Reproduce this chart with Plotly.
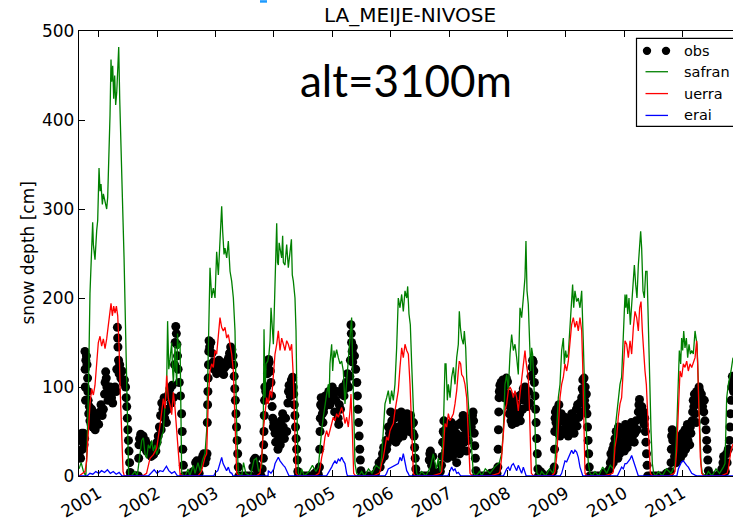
import plotly.graph_objects as go

# ---------------- data (decimal year, snow depth in cm) ----------------
obs_points = [
    (2000.665, 25), (2000.68, 40), (2000.69, 20), (2000.70, 45), (2000.71, 48), (2000.72, 30), (2000.73, 45),
    (2000.74, 48), (2000.75, 35), (2000.76, 42), (2000.765, 140), (2000.768, 120), (2000.77, 100), (2000.775, 85),
    (2000.78, 130), (2000.79, 135), (2000.80, 125), (2000.81, 110), (2000.815, 95), (2000.82, 85), (2000.83, 70),
    (2000.84, 78), (2000.85, 62), (2000.86, 72), (2000.87, 58), (2000.88, 75), (2000.89, 65), (2000.90, 55),
    (2000.92, 60), (2000.94, 52), (2000.96, 62), (2000.98, 70), (2001.00, 58), (2001.02, 72), (2001.04, 80),
    (2001.06, 68), (2001.08, 75), (2001.10, 92), (2001.11, 105), (2001.12, 117), (2001.13, 110), (2001.14, 100),
    (2001.16, 85), (2001.18, 92), (2001.20, 100), (2001.22, 88), (2001.24, 82), (2001.26, 96), (2001.28, 100),
    (2001.30, 95), (2001.31, 120), (2001.32, 167), (2001.325, 155), (2001.33, 145), (2001.34, 130), (2001.35, 115),
    (2001.36, 125), (2001.38, 110), (2001.40, 118), (2001.42, 105), (2001.44, 108), (2001.46, 100), (2001.47, 88),
    (2001.48, 78), (2001.49, 65), (2001.50, 52), (2001.51, 40), (2001.52, 28), (2001.53, 15), (2001.54, 4),
    (2001.55, 0), (2001.58, 0), (2001.61, 0), (2001.64, 0), (2001.66, 0),
    (2001.68, 0), (2001.685, 20), (2001.69, 35), (2001.70, 42), (2001.72, 47), (2001.74, 38), (2001.76, 45),
    (2001.78, 32), (2001.80, 40), (2001.82, 28), (2001.84, 35), (2001.86, 25), (2001.88, 30), (2001.90, 22),
    (2001.92, 28), (2001.94, 24), (2001.96, 32), (2001.98, 28), (2002.00, 38), (2002.02, 45), (2002.04, 55),
    (2002.06, 68), (2002.07, 52), (2002.08, 82), (2002.10, 75), (2002.12, 88), (2002.13, 65), (2002.14, 72),
    (2002.16, 60), (2002.18, 75), (2002.20, 92), (2002.22, 98), (2002.24, 82), (2002.26, 102), (2002.28, 88),
    (2002.30, 125), (2002.31, 150), (2002.32, 168), (2002.33, 160), (2002.34, 148), (2002.35, 135), (2002.36, 120),
    (2002.38, 105), (2002.40, 90), (2002.42, 70), (2002.43, 50), (2002.44, 30), (2002.45, 12), (2002.46, 0),
    (2002.50, 0), (2002.54, 0), (2002.58, 0),
    (2002.62, 5), (2002.66, 15), (2002.68, 17), (2002.70, 10), (2002.72, 3), (2002.76, 18), (2002.78, 22),
    (2002.80, 25), (2002.82, 15), (2002.84, 20), (2002.855, 25), (2002.86, 60), (2002.865, 80), (2002.87, 95),
    (2002.875, 110), (2002.88, 125), (2002.885, 140), (2002.89, 152), (2002.90, 145), (2002.92, 150), (2002.94, 138),
    (2002.96, 128), (2002.98, 120), (2003.00, 125), (2003.02, 115), (2003.04, 122), (2003.06, 130), (2003.08, 118),
    (2003.10, 125), (2003.12, 120), (2003.14, 114), (2003.16, 122), (2003.18, 128), (2003.20, 125), (2003.22, 132),
    (2003.24, 138), (2003.26, 145), (2003.28, 142), (2003.30, 135), (2003.31, 125), (2003.32, 112), (2003.33, 98),
    (2003.34, 85), (2003.35, 70), (2003.36, 55), (2003.37, 40), (2003.38, 25), (2003.39, 10), (2003.40, 0),
    (2003.44, 0), (2003.48, 0), (2003.52, 0), (2003.56, 0), (2003.60, 0),
    (2003.64, 10), (2003.66, 18), (2003.68, 20), (2003.70, 12), (2003.72, 5), (2003.74, 0), (2003.78, 0),
    (2003.80, 8), (2003.82, 20), (2003.825, 35), (2003.83, 50), (2003.835, 68), (2003.84, 85), (2003.845, 100),
    (2003.86, 95), (2003.87, 88), (2003.88, 100), (2003.89, 115), (2003.90, 125), (2003.91, 131), (2003.92, 128),
    (2003.94, 118), (2003.95, 105), (2003.96, 90), (2003.97, 78), (2003.98, 65), (2003.99, 55), (2004.00, 60),
    (2004.02, 48), (2004.03, 38), (2004.04, 52), (2004.06, 58), (2004.07, 30), (2004.08, 42), (2004.10, 50),
    (2004.11, 35), (2004.12, 62), (2004.14, 48), (2004.15, 70), (2004.16, 55), (2004.18, 42), (2004.20, 65),
    (2004.22, 50), (2004.24, 82), (2004.25, 95), (2004.26, 102), (2004.28, 90), (2004.30, 108), (2004.32, 111),
    (2004.33, 100), (2004.34, 92), (2004.35, 80), (2004.36, 68), (2004.37, 55), (2004.38, 42), (2004.39, 30),
    (2004.40, 18), (2004.41, 5), (2004.42, 0), (2004.46, 0), (2004.50, 0), (2004.54, 0), (2004.58, 0),
    (2004.62, 0), (2004.66, 0), (2004.70, 3), (2004.74, 5), (2004.76, 2),
    (2004.78, 10), (2004.785, 30), (2004.79, 50), (2004.795, 65), (2004.80, 80), (2004.81, 88), (2004.82, 78),
    (2004.83, 70), (2004.84, 60), (2004.85, 72), (2004.86, 85), (2004.87, 78), (2004.88, 90), (2004.90, 82),
    (2004.92, 88), (2004.94, 95), (2004.96, 80), (2004.98, 90), (2005.00, 100), (2005.02, 88), (2005.04, 72),
    (2005.06, 85), (2005.08, 95), (2005.10, 65), (2005.11, 58), (2005.12, 80), (2005.14, 75), (2005.16, 92),
    (2005.18, 100), (2005.20, 90), (2005.22, 98), (2005.24, 105), (2005.26, 115), (2005.28, 100), (2005.30, 112),
    (2005.31, 130), (2005.32, 170), (2005.325, 160), (2005.33, 150), (2005.34, 140), (2005.35, 128), (2005.36, 145),
    (2005.38, 135), (2005.40, 120), (2005.42, 105), (2005.43, 90), (2005.44, 75), (2005.45, 60), (2005.46, 45),
    (2005.47, 30), (2005.48, 18), (2005.49, 6), (2005.50, 0), (2005.54, 0), (2005.58, 0), (2005.62, 0),
    (2005.66, 0), (2005.70, 0),
    (2005.74, 3), (2005.77, 8), (2005.80, 15), (2005.82, 10), (2005.84, 18), (2005.86, 25), (2005.88, 32),
    (2005.89, 22), (2005.90, 28), (2005.92, 40), (2005.93, 30), (2005.94, 36), (2005.96, 55), (2005.97, 42),
    (2005.98, 48), (2006.00, 72), (2006.01, 58), (2006.02, 62), (2006.04, 50), (2006.05, 40), (2006.06, 65),
    (2006.08, 48), (2006.09, 38), (2006.10, 70), (2006.12, 55), (2006.13, 42), (2006.14, 66), (2006.16, 50),
    (2006.18, 72), (2006.20, 60), (2006.21, 45), (2006.22, 52), (2006.24, 66), (2006.26, 55), (2006.28, 70),
    (2006.30, 62), (2006.32, 50), (2006.34, 68), (2006.36, 58), (2006.38, 48), (2006.39, 60), (2006.40, 45),
    (2006.41, 32), (2006.42, 20), (2006.43, 8), (2006.44, 0), (2006.48, 0), (2006.52, 0), (2006.56, 0),
    (2006.60, 0), (2006.64, 0),
    (2006.66, 18), (2006.67, 25), (2006.68, 28), (2006.69, 20), (2006.70, 12), (2006.72, 22), (2006.74, 5),
    (2006.78, 0), (2006.82, 0), (2006.85, 5), (2006.87, 12), (2006.88, 22), (2006.89, 38), (2006.90, 50),
    (2006.91, 62), (2006.92, 48), (2006.93, 35), (2006.94, 28), (2006.95, 45), (2006.96, 55), (2006.97, 20),
    (2006.98, 38), (2007.00, 50), (2007.01, 28), (2007.02, 42), (2007.04, 60), (2007.05, 35), (2007.06, 22),
    (2007.08, 52), (2007.09, 40), (2007.10, 30), (2007.12, 48), (2007.13, 15), (2007.14, 35), (2007.16, 58),
    (2007.17, 42), (2007.18, 25), (2007.20, 60), (2007.21, 45), (2007.22, 30), (2007.24, 68), (2007.25, 55),
    (2007.26, 38), (2007.28, 62), (2007.29, 48), (2007.30, 28), (2007.32, 58), (2007.33, 40), (2007.34, 50),
    (2007.36, 62), (2007.38, 55), (2007.40, 68), (2007.41, 72), (2007.42, 62), (2007.43, 48), (2007.44, 34),
    (2007.45, 20), (2007.46, 6), (2007.47, 0), (2007.51, 0), (2007.55, 0), (2007.59, 0), (2007.63, 0),
    (2007.67, 0), (2007.71, 3), (2007.75, 0), (2007.79, 5), (2007.82, 3),
    (2007.835, 10), (2007.84, 30), (2007.845, 52), (2007.85, 72), (2007.855, 88), (2007.86, 95), (2007.87, 102),
    (2007.88, 92), (2007.89, 105), (2007.90, 98), (2007.92, 108), (2007.93, 95), (2007.94, 88), (2007.96, 102),
    (2007.98, 110), (2008.00, 106), (2008.01, 92), (2008.02, 82), (2008.03, 70), (2008.04, 78), (2008.06, 62),
    (2008.07, 85), (2008.08, 58), (2008.10, 75), (2008.11, 65), (2008.12, 88), (2008.14, 72), (2008.15, 60),
    (2008.16, 80), (2008.18, 66), (2008.20, 90), (2008.21, 70), (2008.22, 62), (2008.24, 92), (2008.26, 75),
    (2008.27, 98), (2008.28, 85), (2008.30, 100), (2008.32, 88), (2008.34, 78), (2008.36, 95), (2008.38, 82),
    (2008.40, 112), (2008.42, 122), (2008.43, 130), (2008.44, 128), (2008.45, 118), (2008.46, 105), (2008.47, 90),
    (2008.48, 75), (2008.49, 60), (2008.50, 42), (2008.51, 25), (2008.52, 8), (2008.53, 0), (2008.56, 5),
    (2008.59, 3), (2008.62, 0), (2008.66, 0), (2008.70, 0), (2008.74, 3), (2008.78, 5),
    (2008.80, 10), (2008.805, 30), (2008.81, 50), (2008.815, 65), (2008.82, 72), (2008.83, 60), (2008.84, 75),
    (2008.85, 55), (2008.86, 68), (2008.87, 48), (2008.88, 80), (2008.89, 62), (2008.90, 45), (2008.92, 70),
    (2008.93, 52), (2008.94, 62), (2008.96, 48), (2008.98, 66), (2009.00, 55), (2009.02, 60), (2009.04, 45),
    (2009.06, 65), (2009.08, 52), (2009.10, 70), (2009.12, 58), (2009.14, 48), (2009.16, 62), (2009.18, 75),
    (2009.19, 56), (2009.20, 80), (2009.22, 66), (2009.24, 82), (2009.26, 72), (2009.27, 88), (2009.28, 98),
    (2009.29, 108), (2009.30, 95), (2009.31, 110), (2009.32, 85), (2009.33, 100), (2009.34, 78), (2009.35, 92),
    (2009.36, 70), (2009.37, 55), (2009.38, 40), (2009.39, 25), (2009.40, 10), (2009.41, 0), (2009.45, 0),
    (2009.49, 0), (2009.53, 0), (2009.57, 0), (2009.61, 0), (2009.65, 3), (2009.69, 0), (2009.72, 5),
    (2009.75, 8), (2009.76, 15), (2009.77, 25), (2009.78, 12), (2009.79, 20), (2009.80, 30), (2009.81, 15),
    (2009.82, 35), (2009.83, 22), (2009.84, 42), (2009.85, 28), (2009.86, 50), (2009.87, 32), (2009.88, 45),
    (2009.89, 20), (2009.90, 55), (2009.91, 38), (2009.92, 25), (2009.94, 48), (2009.95, 30), (2009.96, 52),
    (2009.98, 38), (2010.00, 28), (2010.01, 45), (2010.02, 58), (2010.04, 42), (2010.05, 32), (2010.06, 50),
    (2010.08, 38), (2010.10, 55), (2010.11, 42), (2010.12, 60), (2010.14, 45), (2010.16, 56), (2010.17, 38),
    (2010.18, 48), (2010.20, 62), (2010.22, 52), (2010.24, 72), (2010.25, 80), (2010.26, 86), (2010.27, 75),
    (2010.28, 66), (2010.30, 78), (2010.32, 62), (2010.33, 72), (2010.34, 58), (2010.35, 65), (2010.36, 50),
    (2010.37, 38), (2010.38, 25), (2010.39, 12), (2010.40, 0), (2010.44, 0), (2010.48, 0), (2010.52, 0),
    (2010.56, 0), (2010.60, 0), (2010.64, 0), (2010.68, 0), (2010.72, 3), (2010.76, 0),
    (2010.79, 5), (2010.80, 15), (2010.805, 30), (2010.81, 45), (2010.82, 52), (2010.83, 40), (2010.84, 30),
    (2010.85, 45), (2010.86, 22), (2010.87, 38), (2010.88, 28), (2010.89, 15), (2010.90, 35), (2010.92, 22),
    (2010.93, 42), (2010.94, 30), (2010.96, 20), (2010.97, 45), (2010.98, 32), (2011.00, 48), (2011.01, 25),
    (2011.02, 38), (2011.04, 52), (2011.05, 30), (2011.06, 45), (2011.08, 58), (2011.09, 40), (2011.10, 50),
    (2011.12, 35), (2011.13, 55), (2011.14, 48), (2011.16, 62), (2011.17, 72), (2011.18, 85), (2011.19, 78),
    (2011.20, 92), (2011.21, 70), (2011.22, 88), (2011.23, 60), (2011.24, 95), (2011.26, 82), (2011.27, 90),
    (2011.28, 100), (2011.29, 96), (2011.30, 88), (2011.31, 80), (2011.32, 92), (2011.34, 78), (2011.36, 72),
    (2011.37, 85), (2011.38, 62), (2011.40, 52), (2011.41, 40), (2011.42, 30), (2011.43, 18), (2011.44, 6),
    (2011.45, 0), (2011.49, 0), (2011.53, 0), (2011.57, 0), (2011.61, 0),
    (2011.64, 3), (2011.67, 8), (2011.69, 15), (2011.70, 22), (2011.71, 10), (2011.73, 5), (2011.75, 25),
    (2011.76, 15), (2011.78, 30), (2011.80, 40), (2011.81, 55), (2011.82, 70), (2011.83, 85), (2011.84, 100),
    (2011.85, 112), (2011.86, 105), (2011.87, 95),
]

safran_points = [
    (2000.663, 8), (2000.70, 15), (2000.74, 5), (2000.78, 0), (2000.80, 30), (2000.823, 90), (2000.851, 205),
    (2000.88, 246), (2000.897, 285), (2000.909, 260), (2000.937, 243), (2000.966, 276), (2000.983, 287),
    (2001.006, 346), (2001.023, 320), (2001.04, 328), (2001.063, 305), (2001.08, 317), (2001.109, 309),
    (2001.137, 300), (2001.154, 313), (2001.177, 357), (2001.194, 405), (2001.211, 468), (2001.223, 443),
    (2001.24, 461), (2001.257, 424), (2001.274, 450), (2001.291, 417), (2001.309, 431), (2001.326, 454),
    (2001.343, 482), (2001.36, 424), (2001.377, 391), (2001.406, 313), (2001.434, 246), (2001.463, 165),
    (2001.48, 109), (2001.497, 54), (2001.514, 0),
    (2001.56, 0), (2001.62, 5), (2001.66, 0),
    (2001.708, 24), (2001.737, 40), (2001.765, 43), (2001.793, 25), (2001.822, 20), (2001.85, 35), (2001.879, 31),
    (2001.907, 40), (2001.936, 28), (2001.965, 35), (2001.993, 24), (2002.02, 30), (2002.05, 35), (2002.078, 45),
    (2002.107, 50), (2002.135, 80), (2002.164, 102), (2002.18, 174), (2002.20, 120), (2002.221, 131),
    (2002.25, 150), (2002.265, 120), (2002.279, 105), (2002.307, 146), (2002.322, 110), (2002.336, 102),
    (2002.35, 160), (2002.364, 143), (2002.393, 150), (2002.41, 80), (2002.421, 5), (2002.45, 0),
    (2002.48, 0), (2002.53, 8), (2002.56, 0), (2002.62, 12), (2002.65, 3), (2002.70, 15), (2002.74, 5), (2002.78, 18),
    (2002.82, 25), (2002.849, 51), (2002.878, 155), (2002.906, 234), (2002.935, 200), (2002.963, 211),
    (2002.992, 200), (2003.02, 252), (2003.049, 226), (2003.077, 264), (2003.106, 303), (2003.123, 275),
    (2003.146, 249), (2003.163, 256), (2003.192, 245), (2003.22, 264), (2003.249, 230), (2003.277, 219),
    (2003.306, 200), (2003.334, 163), (2003.363, 51), (2003.391, 3),
    (2003.45, 0), (2003.48, 15), (2003.52, 3), (2003.60, 0), (2003.66, 18), (2003.70, 20), (2003.74, 5), (2003.79, 10),
    (2003.819, 60), (2003.831, 165), (2003.848, 88), (2003.865, 126), (2003.894, 129), (2003.916, 137),
    (2003.934, 152), (2003.951, 189), (2003.974, 155), (2003.991, 148), (2004.019, 215), (2004.048, 284),
    (2004.062, 240), (2004.076, 237), (2004.09, 262), (2004.105, 256), (2004.133, 245), (2004.15, 270),
    (2004.162, 240), (2004.19, 237), (2004.219, 260), (2004.247, 234), (2004.276, 249), (2004.30, 266),
    (2004.315, 226), (2004.333, 219), (2004.361, 200), (2004.379, 163), (2004.401, 51), (2004.419, 3),
    (2004.45, 0), (2004.475, 8), (2004.52, 0), (2004.60, 5), (2004.66, 12), (2004.72, 5), (2004.761, 10),
    (2004.789, 32), (2004.818, 51), (2004.846, 66), (2004.875, 81), (2004.903, 92), (2004.932, 103),
    (2004.946, 88), (2004.96, 126), (2004.989, 148), (2005.006, 118), (2005.029, 141), (2005.046, 133),
    (2005.074, 142), (2005.103, 133), (2005.132, 126), (2005.16, 129), (2005.189, 118), (2005.217, 81),
    (2005.246, 103), (2005.274, 126), (2005.303, 155), (2005.331, 178), (2005.348, 126), (2005.366, 51),
    (2005.388, 14), (2005.417, 3),
    (2005.45, 0), (2005.503, 5), (2005.55, 0), (2005.62, 8), (2005.68, 3), (2005.75, 12), (2005.817, 8),
    (2005.845, 21), (2005.874, 51), (2005.902, 81), (2005.931, 88), (2005.959, 96), (2005.988, 81),
    (2006.016, 96), (2006.045, 85), (2006.073, 103), (2006.102, 144), (2006.13, 200), (2006.159, 189),
    (2006.188, 204), (2006.216, 185), (2006.245, 208), (2006.274, 200), (2006.291, 213), (2006.313, 182),
    (2006.336, 170), (2006.359, 126), (2006.388, 70), (2006.416, 29), (2006.445, 3),
    (2006.48, 0), (2006.53, 5), (2006.60, 0), (2006.68, 10), (2006.73, 25), (2006.78, 8), (2006.816, 20),
    (2006.85, 5), (2006.873, 15),
    (2006.901, 51), (2006.93, 126), (2006.947, 126), (2006.97, 85), (2006.987, 103), (2007.016, 88),
    (2007.044, 111), (2007.073, 122), (2007.101, 103), (2007.13, 133), (2007.158, 148), (2007.175, 185),
    (2007.193, 167), (2007.215, 155), (2007.244, 148), (2007.261, 163), (2007.284, 144), (2007.301, 111),
    (2007.33, 81), (2007.358, 51), (2007.387, 21), (2007.415, 3),
    (2007.46, 0), (2007.52, 5), (2007.558, 0), (2007.62, 8), (2007.70, 3), (2007.78, 10), (2007.86, 15), (2007.90, 25),
    (2007.929, 51), (2007.957, 103), (2007.986, 114), (2008.014, 96), (2008.043, 137), (2008.071, 159),
    (2008.10, 141), (2008.128, 148), (2008.157, 133), (2008.185, 114), (2008.214, 189), (2008.242, 178),
    (2008.271, 200), (2008.299, 223), (2008.316, 264), (2008.334, 208), (2008.356, 193), (2008.373, 155),
    (2008.396, 118), (2008.413, 144), (2008.43, 137), (2008.453, 103), (2008.47, 51), (2008.488, 14), (2008.505, 3),
    (2008.55, 0), (2008.585, 5), (2008.65, 0), (2008.72, 8), (2008.78, 3), (2008.813, 15),
    (2008.841, 51), (2008.87, 88), (2008.899, 103), (2008.927, 141), (2008.956, 155), (2008.973, 126),
    (2008.996, 141), (2009.013, 133), (2009.041, 137), (2009.07, 174), (2009.098, 196), (2009.115, 215),
    (2009.133, 189), (2009.155, 208), (2009.184, 196), (2009.212, 200), (2009.241, 189), (2009.27, 208),
    (2009.298, 150), (2009.327, 80), (2009.355, 45), (2009.384, 14), (2009.412, 3),
    (2009.45, 0), (2009.498, 5), (2009.56, 0), (2009.63, 10), (2009.70, 3), (2009.76, 12), (2009.812, 8),
    (2009.84, 51), (2009.869, 70), (2009.897, 88), (2009.926, 103), (2009.954, 111), (2009.983, 155),
    (2010.012, 204), (2010.026, 189), (2010.04, 204), (2010.058, 182), (2010.08, 200), (2010.103, 170),
    (2010.126, 189), (2010.155, 219), (2010.172, 237), (2010.195, 215), (2010.217, 200), (2010.24, 237),
    (2010.263, 267), (2010.28, 275), (2010.297, 256), (2010.32, 208), (2010.343, 200), (2010.366, 230),
    (2010.389, 230), (2010.412, 163), (2010.434, 103), (2010.457, 51), (2010.48, 14), (2010.503, 3),
    (2010.54, 0), (2010.583, 5), (2010.65, 0), (2010.72, 8), (2010.80, 3), (2010.868, 12),
    (2010.897, 51), (2010.925, 103), (2010.942, 141), (2010.965, 126), (2010.982, 155), (2010.999, 141),
    (2011.017, 163), (2011.039, 144), (2011.062, 155), (2011.085, 133), (2011.108, 148), (2011.131, 137),
    (2011.154, 141), (2011.182, 137), (2011.211, 163), (2011.228, 155), (2011.245, 148), (2011.268, 103),
    (2011.291, 51), (2011.313, 14), (2011.336, 3),
    (2011.40, 0), (2011.439, 5), (2011.50, 0), (2011.57, 8), (2011.63, 3), (2011.696, 10), (2011.724, 14),
    (2011.753, 88), (2011.781, 103), (2011.827, 118), (2011.861, 133),
]

uerra_points = [
    (2000.663, 0), (2000.766, 5), (2000.794, 17), (2000.823, 54), (2000.851, 81), (2000.88, 98), (2000.909, 91),
    (2000.937, 102), (2000.966, 128), (2000.994, 150), (2001.023, 157), (2001.051, 146), (2001.08, 154),
    (2001.109, 143), (2001.137, 154), (2001.166, 172), (2001.194, 183), (2001.211, 194), (2001.234, 180),
    (2001.257, 191), (2001.28, 183), (2001.303, 191), (2001.326, 180), (2001.349, 146), (2001.371, 91),
    (2001.394, 35), (2001.417, 5), (2001.44, 0),
    (2001.60, 0), (2001.75, 0), (2001.82, 3),
    (2001.85, 13), (2001.879, 20), (2001.936, 24), (2001.993, 31), (2002.05, 57), (2002.107, 87), (2002.136, 76),
    (2002.164, 113), (2002.193, 87), (2002.221, 80), (2002.25, 69), (2002.279, 94), (2002.307, 76),
    (2002.336, 50), (2002.364, 20), (2002.393, 2), (2002.45, 0),
    (2002.60, 0), (2002.70, 0), (2002.76, 5),
    (2002.792, 14), (2002.82, 21), (2002.849, 25), (2002.878, 88), (2002.906, 118), (2002.935, 126),
    (2002.963, 122), (2002.992, 141), (2003.02, 137), (2003.049, 163), (2003.077, 178), (2003.106, 167),
    (2003.134, 163), (2003.163, 167), (2003.192, 155), (2003.22, 159), (2003.249, 148), (2003.277, 137),
    (2003.306, 118), (2003.334, 70), (2003.363, 3), (2003.40, 0),
    (2003.55, 0), (2003.70, 0), (2003.762, 3),
    (2003.791, 21), (2003.819, 51), (2003.848, 73), (2003.876, 88), (2003.905, 81), (2003.934, 96),
    (2003.962, 88), (2003.991, 118), (2004.019, 137), (2004.048, 148), (2004.076, 163), (2004.105, 141),
    (2004.133, 155), (2004.162, 148), (2004.19, 141), (2004.219, 152), (2004.247, 148), (2004.276, 141),
    (2004.304, 148), (2004.333, 111), (2004.361, 51), (2004.379, 3), (2004.42, 0),
    (2004.55, 0), (2004.70, 0), (2004.77, 3),
    (2004.789, 8), (2004.818, 21), (2004.846, 29), (2004.875, 44), (2004.903, 51), (2004.932, 44),
    (2004.96, 51), (2004.989, 59), (2005.017, 66), (2005.046, 62), (2005.074, 70), (2005.103, 66),
    (2005.132, 73), (2005.16, 77), (2005.189, 70), (2005.217, 59), (2005.246, 66), (2005.274, 55),
    (2005.303, 73), (2005.32, 92), (2005.343, 51), (2005.366, 3), (2005.40, 0),
    (2005.55, 0), (2005.70, 0), (2005.80, 3),
    (2005.817, 5), (2005.845, 14), (2005.874, 21), (2005.902, 32), (2005.931, 44), (2005.959, 40),
    (2005.988, 51), (2006.016, 55), (2006.045, 59), (2006.073, 73), (2006.102, 88), (2006.13, 96),
    (2006.159, 122), (2006.188, 144), (2006.216, 133), (2006.245, 148), (2006.274, 141), (2006.302, 137),
    (2006.331, 103), (2006.359, 51), (2006.388, 3), (2006.42, 0),
    (2006.55, 0), (2006.70, 0), (2006.85, 3),
    (2006.873, 5), (2006.901, 29), (2006.93, 59), (2006.958, 55), (2006.987, 70), (2007.016, 62),
    (2007.044, 66), (2007.073, 70), (2007.101, 81), (2007.13, 96), (2007.158, 118), (2007.175, 129),
    (2007.198, 126), (2007.215, 114), (2007.244, 111), (2007.272, 103), (2007.301, 88), (2007.33, 51),
    (2007.358, 3), (2007.40, 0),
    (2007.55, 0), (2007.70, 0), (2007.85, 3),
    (2007.872, 5), (2007.90, 21), (2007.929, 51), (2007.957, 73), (2007.986, 81), (2008.014, 96),
    (2008.043, 100), (2008.071, 96), (2008.10, 88), (2008.128, 96), (2008.157, 88), (2008.185, 73),
    (2008.214, 92), (2008.242, 111), (2008.271, 126), (2008.299, 141), (2008.316, 129), (2008.334, 118),
    (2008.356, 111), (2008.373, 81), (2008.391, 44), (2008.408, 3), (2008.45, 0),
    (2008.60, 0), (2008.75, 0), (2008.80, 3),
    (2008.813, 5), (2008.841, 21), (2008.87, 51), (2008.899, 88), (2008.927, 103), (2008.956, 111),
    (2008.984, 126), (2009.013, 118), (2009.041, 129), (2009.07, 152), (2009.098, 170), (2009.127, 178),
    (2009.155, 167), (2009.184, 174), (2009.212, 163), (2009.241, 178), (2009.27, 163), (2009.287, 126),
    (2009.304, 70), (2009.327, 3), (2009.36, 0),
    (2009.50, 0), (2009.65, 0), (2009.80, 3),
    (2009.812, 5), (2009.84, 32), (2009.869, 44), (2009.897, 66), (2009.926, 81), (2009.954, 88),
    (2009.983, 118), (2010.012, 152), (2010.04, 148), (2010.069, 133), (2010.098, 152), (2010.126, 137),
    (2010.155, 167), (2010.183, 185), (2010.212, 178), (2010.24, 163), (2010.263, 189), (2010.286, 196),
    (2010.309, 163), (2010.332, 133), (2010.354, 118), (2010.377, 103), (2010.40, 73), (2010.423, 44),
    (2010.446, 3), (2010.48, 0),
    (2010.62, 0), (2010.76, 0), (2010.85, 3),
    (2010.868, 5), (2010.897, 29), (2010.925, 81), (2010.954, 118), (2010.982, 111), (2011.011, 126),
    (2011.039, 122), (2011.068, 129), (2011.096, 118), (2011.125, 126), (2011.154, 122), (2011.182, 129),
    (2011.211, 133), (2011.239, 152), (2011.256, 126), (2011.279, 70), (2011.302, 21), (2011.325, 3),
    (2011.36, 0),
    (2011.50, 0), (2011.65, 0), (2011.76, 3), (2011.781, 8), (2011.827, 29), (2011.861, 36),
]

erai_points = [
    (2000.663, 0), (2000.80, 0), (2000.85, 3), (2000.90, 2), (2000.95, 5), (2001.00, 3), (2001.05, 6),
    (2001.10, 4), (2001.15, 7), (2001.20, 3), (2001.25, 5), (2001.30, 2), (2001.35, 4), (2001.40, 0),
    (2001.85, 0), (2001.90, 4), (2001.95, 7), (2002.00, 3), (2002.05, 6), (2002.10, 5), (2002.16, 11),
    (2002.20, 6), (2002.25, 3), (2002.30, 5), (2002.35, 0),
    (2002.97, 0), (2003.00, 4), (2003.04, 6), (2003.08, 14), (2003.106, 21), (2003.13, 14), (2003.163, 10),
    (2003.19, 6), (2003.22, 10), (2003.25, 4), (2003.28, 3), (2003.30, 0),
    (2003.90, 0), (2003.905, 6), (2003.95, 3), (2004.00, 8), (2004.02, 14), (2004.05, 17), (2004.076, 21),
    (2004.105, 17), (2004.133, 14), (2004.162, 12), (2004.19, 10), (2004.219, 6), (2004.247, 3), (2004.26, 0),
    (2004.90, 0), (2004.93, 3), (2004.989, 10), (2005.017, 14), (2005.046, 17), (2005.074, 14), (2005.103, 19),
    (2005.132, 17), (2005.16, 21), (2005.189, 17), (2005.217, 14), (2005.246, 3), (2005.26, 0),
    (2005.90, 0), (2005.93, 3), (2005.959, 8), (2006.016, 10), (2006.073, 12), (2006.13, 14), (2006.159, 21),
    (2006.188, 17), (2006.216, 25), (2006.245, 17), (2006.274, 6), (2006.30, 3), (2006.32, 0),
    (2006.98, 0), (2007.016, 6), (2007.044, 10), (2007.073, 6), (2007.101, 8), (2007.13, 3), (2007.158, 4),
    (2007.20, 0),
    (2007.93, 0), (2007.986, 8), (2008.014, 10), (2008.043, 6), (2008.071, 12), (2008.10, 14), (2008.128, 10),
    (2008.157, 6), (2008.185, 12), (2008.214, 8), (2008.242, 3), (2008.271, 10), (2008.299, 3), (2008.32, 0),
    (2008.90, 0), (2008.927, 3), (2008.956, 10), (2008.984, 17), (2009.013, 16), (2009.041, 21), (2009.07, 25),
    (2009.098, 29), (2009.127, 25), (2009.155, 29), (2009.184, 27), (2009.212, 21), (2009.241, 10),
    (2009.27, 3), (2009.29, 0),
    (2009.88, 0), (2009.926, 6), (2009.954, 10), (2009.983, 8), (2010.012, 14), (2010.04, 14), (2010.069, 16),
    (2010.098, 19), (2010.126, 23), (2010.155, 17), (2010.183, 10), (2010.212, 4), (2010.24, 0),
    (2010.90, 0), (2010.925, 8), (2010.954, 12), (2010.982, 16), (2011.011, 17), (2011.039, 14),
    (2011.068, 12), (2011.096, 10), (2011.125, 6), (2011.154, 3), (2011.211, 1), (2011.25, 0), (2011.861, 0),
]

year_ticks = [2001, 2002, 2003, 2004, 2005, 2006, 2007, 2008, 2009, 2010, 2011]
year_labels = ["2001", "2002", "2003", "2004", "2005", "2006", "2007", "2008", "2009", "2010", "2011"]
depth_ticks = [0, 100, 200, 300, 400, 500]
series_names = ["obs", "safran", "uerra", "erai"]
series_colors = ["black", "#008000", "#ff0000", "#0000ff"]

# ---------------- figure ----------------
W, H = 733, 522
L, R, T, B = 79, 733, 31, 479   # plot area in pixels


def px(x):
    return (x - L) / (R - L)


def py(y):
    return (B - y) / (B - T)


fig = go.Figure()
fig.add_trace(go.Scatter(
    x=[p[0] for p in obs_points], y=[p[1] for p in obs_points], mode="markers",
    marker=dict(color="black", size=9, line=dict(width=0)), name="obs", showlegend=False))
for name, pts, col in [("safran", safran_points, series_colors[1]),
                       ("uerra", uerra_points, series_colors[2]),
                       ("erai", erai_points, series_colors[3])]:
    fig.add_trace(go.Scatter(
        x=[p[0] for p in pts], y=[p[1] for p in pts], mode="lines",
        line=dict(color=col, width=1.3), name=name, showlegend=False))

font_main = "DejaVu Sans, sans-serif"

fig.update_layout(
    width=W, height=H,
    margin=dict(l=L, r=W - R, t=T, b=H - B),
    paper_bgcolor="white", plot_bgcolor="white",
    showlegend=False,
    font=dict(family=font_main, color="black", size=17),
    xaxis=dict(range=[2000.663, 2011.861], tickmode="array", tickvals=year_ticks, ticktext=year_labels,
               tickangle=-30, ticks="inside", ticklen=6, tickwidth=1, tickcolor="black",
               showline=True, linecolor="black", linewidth=1.3, mirror="ticks",
               showgrid=False, zeroline=False, tickfont=dict(size=17, family=font_main)),
    yaxis=dict(range=[0, 500], tickmode="array", tickvals=depth_ticks,
               ticktext=[str(v) for v in depth_ticks],
               ticks="inside", ticklen=6, tickwidth=1, tickcolor="black",
               showline=True, linecolor="black", linewidth=1.3, mirror=False,
               showgrid=False, zeroline=False, tickfont=dict(size=17, family=font_main)),
)

annotations = [
    dict(text="LA_MEIJE-NIVOSE", x=px(410), y=py(15), xref="paper", yref="paper",
         xanchor="center", yanchor="middle", showarrow=False, font=dict(size=20, family=font_main)),
    dict(text="alt=3100m", x=px(406), y=py(80), xref="paper", yref="paper",
         xanchor="center", yanchor="middle", showarrow=False, font=dict(size=44, family="Lato, sans-serif")),
    dict(text="snow depth [cm]", x=px(27), y=py(255), xref="paper", yref="paper", textangle=-90,
         xanchor="center", yanchor="middle", showarrow=False, font=dict(size=17, family=font_main)),
]

# legend drawn by hand (matplotlib style with two markers for obs)
shapes = [
    dict(type="rect", xref="paper", yref="paper", x0=px(636.5), x1=px(760), y0=py(127), y1=py(38.5),
         line=dict(color="black", width=1.2), fillcolor="white", layer="above"),
    dict(type="rect", xref="paper", yref="paper", x0=px(260), x1=px(267), y0=py(0), y1=py(2.5),
         line=dict(width=0), fillcolor="#1e9bff"),
]
legend_y = [51, 72, 94, 116]
for i, (name, col) in enumerate(zip(series_names, series_colors)):
    yy = legend_y[i]
    if i == 0:
        for cx in (647, 666):
            shapes.append(dict(type="circle", xref="paper", yref="paper",
                               x0=px(cx - 4.2), x1=px(cx + 4.2), y0=py(yy + 4.2), y1=py(yy - 4.2),
                               fillcolor="black", line=dict(width=0), layer="above"))
    else:
        shapes.append(dict(type="line", xref="paper", yref="paper", x0=px(645.5), x1=px(668),
                           y0=py(yy), y1=py(yy), line=dict(color=col, width=1.3), layer="above"))
    annotations.append(dict(text=name, x=px(682), y=py(yy), xref="paper", yref="paper",
                            xanchor="left", yanchor="middle", showarrow=False,
                            font=dict(size=14.5, family=font_main)))

fig.update_layout(annotations=annotations, shapes=shapes)
fig.write_html("out.html")
